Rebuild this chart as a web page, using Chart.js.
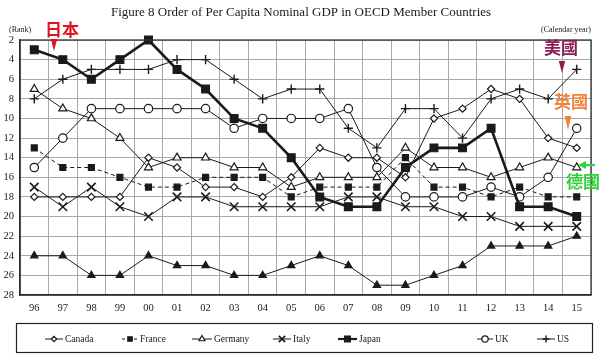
<!DOCTYPE html>
<html>
<head>
<meta charset="utf-8">
<script src="https://cdn.jsdelivr.net/npm/chart.js@4/dist/chart.umd.min.js"></script>
<style>
html,body{margin:0;padding:0;background:#fff;}
#wrap{width:600px;height:356px;position:relative;}
</style>
</head>
<body>
<div id="wrap"><canvas id="c" width="600" height="356"></canvas></div>
<script>
// ---- data ----
const years = ['96','97','98','99','00','01','02','03','04','05','06','07','08','09','10','11','12','13','14','15'];
const yTicks = [2,4,6,8,10,12,14,16,18,20,22,24,26,28];
const canada  = [18,18,18,18,14,15,17,17,18,16,13,14,14,16,10,9,7,8,12,13];
const france  = [13,15,15,16,17,17,16,16,16,18,17,17,17,14,17,17,18,17,18,18];
const germany = [7,9,10,12,15,14,14,15,15,17,16,16,16,13,15,15,16,15,14,15];
const italy   = [17,19,17,19,20,18,18,19,19,19,19,18,18,19,19,20,20,21,21,21];
const japan   = [3,4,6,4,2,5,7,10,11,14,18,19,19,15,13,13,11,19,19,20];
const other   = [24,24,26,26,24,25,25,26,26,25,24,25,27,27,26,25,23,23,23,22];
const uk      = [15,12,9,9,9,9,9,11,10,10,10,9,15,18,18,18,17,18,16,11];
const us      = [8,6,5,5,5,4,4,6,8,7,7,11,13,9,9,12,8,7,8,5];

const titleText = 'Figure 8 Order of Per Capita Nominal GDP in OECD Member Countries';
const yUnit = '(Rank)';
const xUnit = '(Calendar year)';

const INK = '#1a1a1a';
const serif = '"Liberation Serif", "DejaVu Serif", serif';
const cjk = '"Noto Sans CJK TC", "Noto Sans CJK SC", sans-serif';

function ds(label, data, o) {
  return Object.assign({
    label, data,
    borderColor: INK, backgroundColor: '#fff',
    pointBorderColor: INK, pointBackgroundColor: '#fff',
    borderWidth: 1, pointBorderWidth: 1.2, pointRadius: 4,
    tension: 0, fill: false, clip: false
  }, o);
}

const datasets = [
  ds('Canada', canada, {pointStyle:'rectRot', pointRadius:3.6}),
  ds('France', france, {borderDash:[4,3], pointStyle:'rect', pointRadius:4.2, pointBackgroundColor:INK}),
  ds('Germany', germany, {pointStyle:'triangle', pointRadius:4.6}),
  ds('Italy', italy, {pointStyle:'crossRot', pointRadius:6, pointBorderWidth:1.6}),
  ds('Japan', japan, {borderWidth:2.6, pointStyle:'rect', pointRadius:5.5, pointBackgroundColor:INK}),
  ds('', other, {pointStyle:'triangle', pointRadius:4.2, pointBackgroundColor:INK}),
  ds('UK', uk, {pointStyle:'circle', pointRadius:4.2}),
  ds('US', us, {pointStyle:'cross', pointRadius:4.6, pointBorderWidth:1.4})
];

// legend layout: [line start x, line end x] for each labelled series
const legendSlots = {Canada:[45,63], France:[122,138], Germany:[192,212], Italy:[273,291], Japan:[338,357], UK:[477,493], US:[537,555]};

const decor = {
  id: 'decor',
  beforeDraw(chart) {
    const c = chart.ctx;
    c.save(); c.fillStyle = '#fff'; c.fillRect(0,0,chart.width,chart.height); c.restore();
  },
  afterDraw(chart) {
    const c = chart.ctx, a = chart.chartArea;
    c.save();
    // plot frame
    c.strokeStyle = '#333'; c.lineWidth = 1.3;
    c.strokeRect(a.left, a.top, a.right - a.left, a.bottom - a.top);
    // title & units
    c.fillStyle = INK; c.textBaseline = 'middle';
    c.font = '13px ' + serif; c.textAlign = 'center';
    c.fillText(titleText, 301, 13);
    c.font = '8px ' + serif; c.textAlign = 'left';
    c.fillText(yUnit, 9, 30);
    c.textAlign = 'right';
    c.fillText(xUnit, 591, 30);

    // legend box
    c.strokeStyle = '#222'; c.lineWidth = 1.2;
    c.strokeRect(16.5, 323.5, 576, 29);
    const ly = 339;
    chart.data.datasets.forEach((d) => {
      const slot = legendSlots[d.label];
      if (!slot) return;
      c.save();
      c.strokeStyle = INK;
      c.lineWidth = Math.min(d.borderWidth, 2.2);
      c.setLineDash(d.borderDash ? [3,3] : []);
      c.beginPath(); c.moveTo(slot[0], ly); c.lineTo(slot[1], ly); c.stroke();
      c.setLineDash([]);
      c.fillStyle = d.pointBackgroundColor; c.strokeStyle = INK; c.lineWidth = d.pointBorderWidth;
      Chart.helpers.drawPoint(c, {pointStyle: d.pointStyle, radius: d.pointRadius * 0.75, rotation: 0, borderWidth: d.pointBorderWidth}, (slot[0] + slot[1]) / 2, ly);
      c.restore();
      c.fillStyle = INK; c.font = '9.5px ' + serif; c.textAlign = 'left'; c.textBaseline = 'middle';
      c.fillText(d.label, slot[1] + 2, ly);
    });

    // annotations
    function downArrow(x, y0, y1, col) {
      c.fillStyle = col; c.beginPath();
      c.moveTo(x - 3.2, y0); c.lineTo(x + 3.2, y0); c.lineTo(x, y1); c.closePath(); c.fill();
    }
    c.textAlign = 'center'; c.textBaseline = 'middle';
    c.font = 'bold 17px ' + cjk;
    c.fillStyle = '#e0141e'; c.fillText('日本', 62, 30);
    downArrow(54, 39, 51, '#e0141e');
    c.fillStyle = '#8a1c58'; c.fillText('美國', 561, 48);
    downArrow(562, 61, 73, '#8a1c58');
    c.fillStyle = '#f0823a'; c.fillText('英國', 571, 102);
    downArrow(568, 116, 130, '#f0823a');
    c.fillStyle = '#2fd23c'; c.fillText('德國', 583, 182);
    c.beginPath(); c.moveTo(578, 165); c.lineTo(586, 161); c.lineTo(586, 169); c.closePath(); c.fill();
    c.fillRect(585, 164, 10, 2.2);
    c.restore();
  }
};

new Chart(document.getElementById('c'), {
  type: 'line',
  data: { labels: years, datasets },
  plugins: [decor],
  options: {
    responsive: false, animation: false, devicePixelRatio: 1,
    layout: { padding: { top: 40, right: 9, bottom: 36, left: 0 } },
    plugins: { legend: { display: false }, title: { display: false }, tooltip: { enabled: false } },
    scales: {
      x: {
        type: 'category', offset: true,
        grid: { offset: true, color: '#a8a8a8', lineWidth: 1, drawTicks: false },
        border: { display: true, color: '#222', width: 1.3 },
        ticks: { color: INK, font: { family: serif, size: 10.5 }, padding: 7, maxRotation: 0, autoSkip: false },
        afterFit(s) { s.height = 25; }
      },
      y: {
        type: 'linear', min: 2, max: 28, reverse: true,
        afterBuildTicks(s) { s.ticks = yTicks.map(v => ({ value: v })); },
        grid: { color: '#a8a8a8', lineWidth: 1, drawTicks: false },
        border: { display: true, color: '#222', width: 1.3 },
        ticks: { color: INK, font: { family: serif, size: 10.5 }, padding: 6 },
        afterFit(s) { s.width = 20; }
      }
    }
  }
});
</script>
</body>
</html>
